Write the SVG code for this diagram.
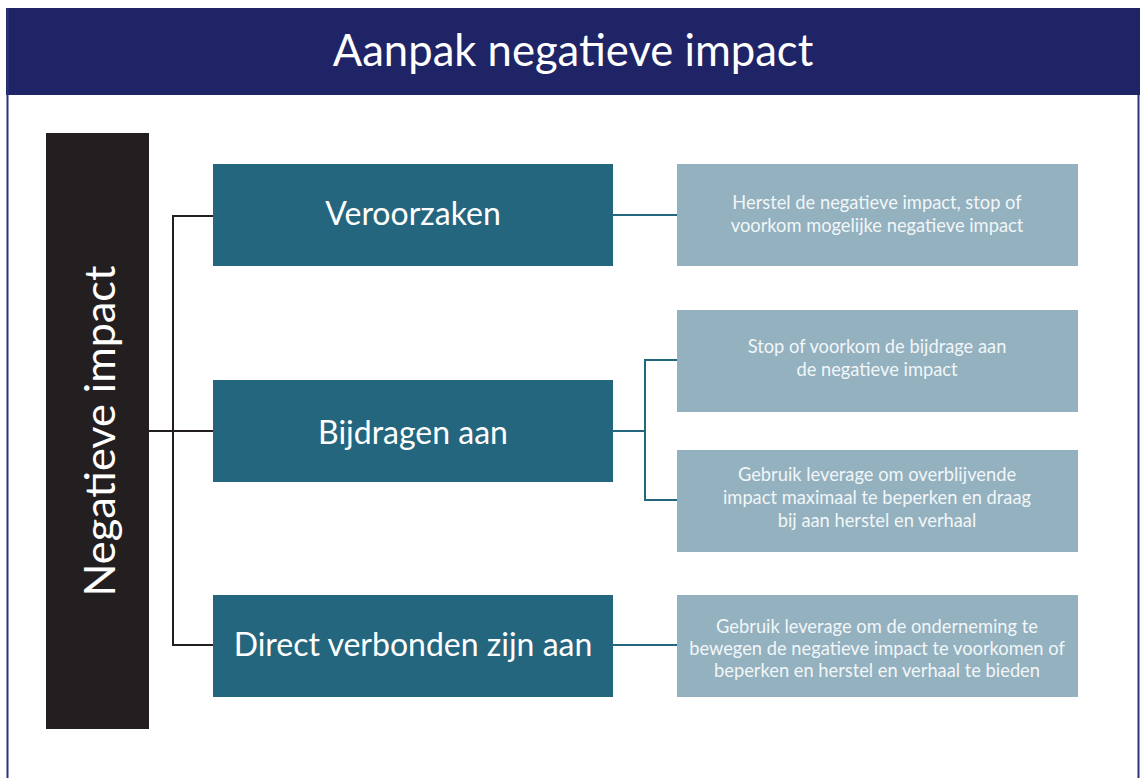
<svg xmlns="http://www.w3.org/2000/svg" width="1140" height="778" viewBox="0 0 1140 778">
<style>
.node{fill:#25667f}
.act{fill:#93b1bf}
.nt{font-family:Lato,"Open Sans",sans-serif;font-size:32px;fill:#ffffff;text-anchor:middle}
.at{font-family:Lato,"Open Sans",sans-serif;font-size:18.3px;fill:#f2f6f8;text-anchor:middle}
.blk{fill:none;stroke:#231f20;stroke-width:2}
.tl{fill:none;stroke:#25667f;stroke-width:2}
</style>
<rect x="0" y="0" width="1140" height="778" fill="#ffffff"/>
<rect x="6" y="8" width="1134" height="87" fill="#1f2466"/>
<line x1="7.5" y1="8" x2="7.5" y2="778" stroke="#2c3278" stroke-width="2"/>
<line x1="1138.5" y1="95" x2="1138.5" y2="778" stroke="#2c3278" stroke-width="2"/>
<text x="573" y="66" font-family="Lato,'Open Sans',sans-serif" font-size="43.6" fill="#ffffff" text-anchor="middle">Aanpak negatieve impact</text>
<g id="connectors">
<path class="blk" d="M149 431H173M213 216H173V645H213M173 431H213"/>
<path class="tl" d="M613 215H677"/>
<path class="tl" d="M613 431H645M677 360H645V500H677"/>
<path class="tl" d="M613 645H677"/>
</g>
<g id="negatieve-impact">
<rect x="46" y="133" width="103" height="596" fill="#231f20"/>
<text transform="translate(115 431) rotate(-90)" font-family="Lato,'Open Sans',sans-serif" font-size="43.2" fill="#ffffff" text-anchor="middle">Negatieve impact</text>
</g>
<g id="veroorzaken">
<rect class="node" x="213" y="164" width="400" height="102"/>
<text class="nt" x="413" y="225">Veroorzaken</text>
</g>
<g id="bijdragen">
<rect class="node" x="213" y="380" width="400" height="102"/>
<text class="nt" x="413" y="444">Bijdragen aan</text>
</g>
<g id="direct">
<rect class="node" x="213" y="595" width="400" height="102"/>
<text class="nt" x="413" y="656">Direct verbonden zijn aan</text>
</g>
<g id="act1">
<rect class="act" x="677" y="164" width="401" height="102"/>
<text class="at" x="877" y="209">Herstel de negatieve impact, stop of</text>
<text class="at" x="877" y="232">voorkom mogelijke negatieve impact</text>
</g>
<g id="act2">
<rect class="act" x="677" y="310" width="401" height="102"/>
<text class="at" x="877" y="353">Stop of voorkom de bijdrage aan</text>
<text class="at" x="877" y="376">de negatieve impact</text>
</g>
<g id="act3">
<rect class="act" x="677" y="450" width="401" height="102"/>
<text class="at" x="877" y="481">Gebruik leverage om overblijvende</text>
<text class="at" x="877" y="504">impact maximaal te beperken en draag</text>
<text class="at" x="877" y="527">bij aan herstel en verhaal</text>
</g>
<g id="act4">
<rect class="act" x="677" y="595" width="401" height="102"/>
<text class="at" x="877" y="633">Gebruik leverage om de onderneming te</text>
<text class="at" x="877" y="655">bewegen de negatieve impact te voorkomen of</text>
<text class="at" x="877" y="677">beperken en herstel en verhaal te bieden</text>
</g>
</svg>
